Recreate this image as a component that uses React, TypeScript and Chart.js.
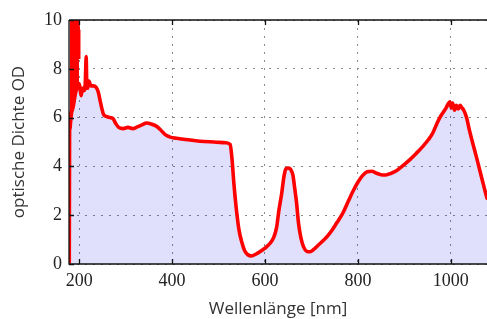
import React, { useEffect, useRef } from "react";
import { Chart, registerables } from "chart.js";

Chart.register(...registerables);

// smooth part of the spectrum
const wavelengths: number[] = [
  178.6, 179.3, 185, 192, 199.5,
  201, 204, 207, 210, 213, 215, 216, 218, 221, 225, 230, 236, 241, 246, 252, 258, 267, 273, 279, 285,
  295, 305, 315, 325, 335, 345, 355, 365, 375, 385, 396, 410, 430, 460, 490, 515, 525, 529, 533, 538,
  544, 550, 556, 563, 571, 580, 589, 600, 611, 619, 625, 630, 636, 641, 645, 650, 655, 660, 664, 668,
  672, 677, 683, 690, 697, 705, 715, 725, 735, 745, 755, 768, 780, 790, 800, 810, 820, 830, 840, 850,
  860, 872, 883, 895, 912, 925, 940, 952, 961, 970, 978, 985, 990, 994, 998, 1001, 1004, 1008, 1012, 1016,
  1020, 1024, 1028, 1034, 1040, 1048, 1055, 1063, 1071, 1078, 1085,
];

const opticalDensity: number[] = [
  0.0, 5.5, 6.3, 7.0, 7.4,
  7.3, 6.9, 7.2, 7.1, 7.4, 8.5, 7.6, 7.2, 7.5, 7.3, 7.3, 7.25, 7.05, 6.6, 6.15, 6.05, 6.0, 5.95, 5.75, 5.6,
  5.55, 5.6, 5.55, 5.62, 5.7, 5.78, 5.74, 5.66, 5.5, 5.3, 5.2, 5.15, 5.1, 5.03, 5.0, 4.97, 4.9, 4.3, 3.3, 2.3,
  1.4, 0.9, 0.55, 0.38, 0.33, 0.4, 0.5, 0.65, 0.85, 1.1, 1.5, 2.2, 2.9, 3.6, 3.9, 3.93, 3.88, 3.65, 3.1, 2.5,
  1.7, 1.1, 0.7, 0.52, 0.5, 0.6, 0.78, 0.95, 1.15, 1.4, 1.7, 2.1, 2.6, 3.0, 3.35, 3.62, 3.78, 3.8, 3.72, 3.66,
  3.65, 3.72, 3.82, 4.0, 4.28, 4.52, 4.82, 5.1, 5.36, 5.75, 6.05, 6.25, 6.4, 6.55, 6.65, 6.4, 6.6, 6.3, 6.5, 6.35,
  6.5, 6.4, 6.3, 6.0, 5.5, 4.9, 4.4, 3.8, 3.2, 2.7, 2.3,
];

// noisy band near the UV edge: upper and lower envelope of the oscillating trace
const noiseWavelengths: number[] = [179.3, 181, 183, 186, 189, 192, 195, 197, 198.5, 199.5];
const noiseUpper: number[] = [10.6, 10.6, 10.6, 10.6, 10.6, 10.6, 10.6, 10.4, 9.6, 8.4];
const noiseLower: number[] = [5.5, 5.6, 6.0, 6.5, 6.9, 7.1, 7.2, 7.2, 7.3, 7.3];

const xTicks: number[] = [200, 400, 600, 800, 1000];
const yTicks: number[] = [0, 2, 4, 6, 8, 10];
const xTitle = "Wellenlänge [nm]";
const yTitle = "optische Dichte OD";

const boxPlugin = {
  id: "boxPlugin",
  afterDatasetsDraw(chart: any) {
    const { ctx, chartArea } = chart;
    const xs = chart.scales.x;
    const ys = chart.scales.y;
    ctx.save();
    ctx.strokeStyle = "#111";
    ctx.lineWidth = 1.3;
    ctx.beginPath();
    ctx.moveTo(chartArea.left, chartArea.top);
    ctx.lineTo(chartArea.right, chartArea.top);
    ctx.moveTo(chartArea.left, chartArea.top);
    ctx.lineTo(chartArea.left, chartArea.bottom);
    ctx.lineTo(chartArea.right, chartArea.bottom);
    for (const v of xTicks) {
      const px = Math.round(xs.getPixelForValue(v)) + 0.5;
      ctx.moveTo(px, chartArea.bottom);
      ctx.lineTo(px, chartArea.bottom - 5);
      ctx.moveTo(px, chartArea.top);
      ctx.lineTo(px, chartArea.top + 5);
    }
    for (const v of yTicks) {
      const py = Math.round(ys.getPixelForValue(v)) + 0.5;
      ctx.moveTo(chartArea.left, py);
      ctx.lineTo(chartArea.left + 5, py);
    }
    ctx.stroke();
    ctx.restore();
  },
};

export default function App() {
  const ref = useRef<HTMLCanvasElement | null>(null);
  useEffect(() => {
    document.body.style.margin = "0";
    const canvas = ref.current;
    if (!canvas) return;
    const chart = new Chart(canvas, {
      type: "line",
      data: {
        datasets: [
          {
            data: noiseWavelengths.map((w, i) => ({ x: w, y: noiseUpper[i] })),
            borderColor: "#ff0000",
            borderWidth: 3,
            backgroundColor: "#ff0000",
            fill: 1,
            pointRadius: 0,
            tension: 0,
            clip: 0,
            order: 0,
          },
          {
            data: noiseWavelengths.map((w, i) => ({ x: w, y: noiseLower[i] })),
            borderColor: "#ff0000",
            borderWidth: 3,
            fill: false,
            pointRadius: 0,
            tension: 0,
            clip: 0,
            order: 0,
          },
          {
            data: wavelengths.map((w, i) => ({ x: w, y: opticalDensity[i] })),
            borderColor: "#ff0000",
            borderWidth: 3.6,
            backgroundColor: "rgba(0,0,230,0.12)",
            fill: "origin",
            pointRadius: 0,
            cubicInterpolationMode: "monotone",
            borderJoinStyle: "round",
            borderCapStyle: "round",
            clip: 0,
            order: 1,
          },
        ],
      },
      options: {
        animation: false,
        responsive: false,
        maintainAspectRatio: false,
        layout: { padding: { top: 20, right: 0, left: 0, bottom: 0 } },
        plugins: { legend: { display: false }, tooltip: { enabled: false } },
        scales: {
          x: {
            type: "linear",
            min: 178,
            max: 1078,
            afterBuildTicks: (scale: any) => {
              scale.ticks = xTicks.map((v) => ({ value: v }));
            },
            afterFit: (scale: any) => {
              scale.height = 55;
            },
            grid: { color: "#8a8a8a", lineWidth: 1, drawTicks: false },
            border: { display: false, dash: [2, 6] },
            ticks: {
              padding: 6,
              color: "#222",
              font: { family: "'Liberation Serif', serif", size: 18 },
              maxRotation: 0,
              callback: (v: any) => String(v),
            },
            title: {
              display: true,
              text: xTitle,
              color: "#333",
              font: { family: "'Open Sans', sans-serif", size: 17 },
              padding: { top: 1, bottom: 0 },
            },
          },
          y: {
            type: "linear",
            min: 0,
            max: 10,
            afterBuildTicks: (scale: any) => {
              scale.ticks = yTicks.map((v) => ({ value: v }));
            },
            afterFit: (scale: any) => {
              scale.width = 69;
            },
            grid: { color: "#8a8a8a", lineWidth: 1, drawTicks: false },
            border: { display: false, dash: [2, 6] },
            ticks: {
              padding: 7,
              color: "#222",
              font: { family: "'Liberation Serif', serif", size: 18 },
              callback: (v: any) => String(v),
            },
            title: {
              display: true,
              text: yTitle,
              color: "#333",
              font: { family: "'Open Sans', sans-serif", size: 17 },
              padding: { top: 9, bottom: 0 },
            },
          },
        },
      },
      plugins: [boxPlugin],
    });
    return () => chart.destroy();
  }, []);
  return (
    <div style={{ width: 487, height: 319 }}>
      <canvas ref={ref} width={487} height={319} style={{ width: 487, height: 319, display: "block" }} />
    </div>
  );
}
